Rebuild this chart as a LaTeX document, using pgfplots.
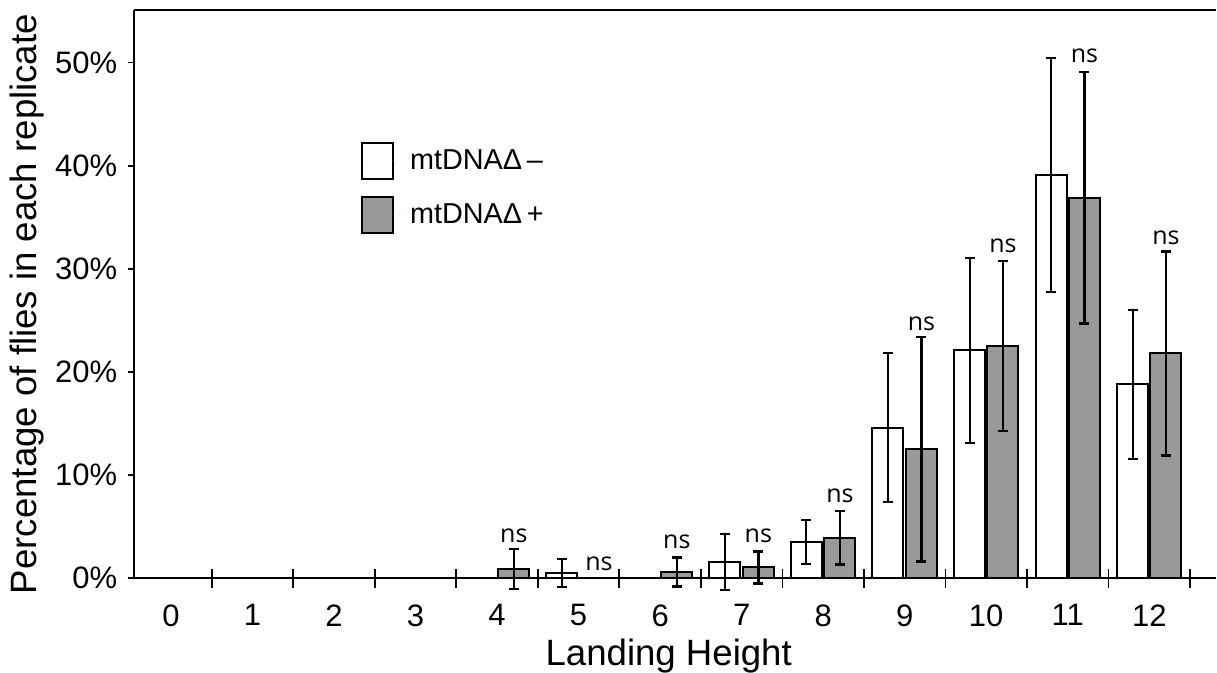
\documentclass[border=0pt]{standalone}
\usepackage{fontspec}
\setmainfont{Liberation Sans}
\newfontfamily\nsfont{Open Sans}
\usepackage{pgfplots}
\usepackage{pgfplotstable}
\pgfplotsset{compat=1.18}
\definecolor{barGray}{RGB}{153,153,153}

% landing height, mean %, half-width of error bar
\pgfplotstableread{
x  y     e
5  0.50  1.35
7  1.55  2.75
8  3.50  2.15
9  14.6  7.20
10 22.1  8.95
11 39.1  11.35
12 18.8  7.25
}\minus
\pgfplotstableread{
x  y     e
4  0.87  1.95
6  0.60  1.40
7  1.04  1.55
8  3.90  2.60
9  12.5  10.9
10 22.5  8.25
11 36.9  12.2
12 21.8  9.90
}\plus

\begin{document}
\begin{tikzpicture}
\begin{axis}[
  scale only axis,
  width=540.8pt, height=284pt,
  xmin=-0.45, xmax=12.82,
  ymin=0, ymax=55.1,
  axis lines*=left,
  axis line style={-, line width=0.9pt},
  clip=false,
  ybar, bar width=0.38,
  tick align=outside,
  major tick length=3pt,
  xtick={0,...,12},
  xticklabels={0,1,2,3,4,5,6,7,8,9,10,11,12},
  xtick style={draw=none},
  ytick={0,10,...,50},
  yticklabels={0\%,10\%,20\%,30\%,40\%,50\%},
  ytick style={line width=0.9pt, black},
  tick label style={font=\fontsize{15.5}{17}\selectfont},
  yticklabel style={xshift=-2pt},
  xticklabel shift=6.7pt,
  xlabel={Landing Height},
  ylabel={Percentage of flies in each replicate},
  label style={font=\fontsize{18.3}{20}\selectfont},
  xlabel style={at={(rel axis cs:0.494,0)}, anchor=base, yshift=-43.5pt, inner sep=0pt},
  ylabel style={yshift=-3pt, xshift=-5pt, inner xsep=0pt, inner ysep=5pt},
  legend style={at={(0.2037,0.776)}, anchor=north west, draw=none, fill=none,
    font=\fontsize{14.4}{16}\selectfont, row sep=8pt},
  legend cell align=left,
  legend image code/.code={\draw[line width=1pt, #1] (0pt,-9pt) rectangle (15.5pt,9pt); \path[draw=none] (0pt,0pt) -- (22pt,0pt);},
]
\addplot[draw=black, line width=1pt, fill=white, bar shift=-0.205,
  error bars/.cd, y dir=both, y explicit,
  error bar style={line width=1pt, black},
  error mark options={rotate=90, line width=1pt, mark size=2.5pt, black}]
  table[x=x, y=y, y error=e]{\minus};
\addlegendentry{mtDNAΔ\,–}
\addplot[draw=black, line width=1pt, fill=barGray, bar shift=0.205,
  error bars/.cd, y dir=both, y explicit,
  error bar style={line width=1.25pt, black},
  error mark options={rotate=90, line width=1.25pt, mark size=2.5pt, black}]
  table[x=x, y=y, y error=e]{\plus};
\addlegendentry{mtDNAΔ\,+}
% separator ticks between the landing heights, crossing the x axis
\addplot[forget plot, draw=none, fill=none, bar width=0, bar shift=0,
  error bars/.cd, y dir=both, y fixed=0.92, error mark=none,
  error bar style={draw=black, line width=0.9pt}]
  coordinates {(0.5,0) (1.5,0) (2.5,0) (3.5,0) (4.5,0) (5.5,0) (6.5,0)
               (7.5,0) (8.5,0) (9.5,0) (10.5,0) (11.5,0) (12.5,0)};
\draw[line width=0.9pt] (rel axis cs:0,1) -- (rel axis cs:1,1);
\path (axis cs:0,56.07);
\begin{scope}[every node/.style={font=\nsfont\fontsize{12.5}{14}\selectfont}]
\node at (axis cs:4.205,4.1) {ns};
\node at (axis cs:5.25,1.4) {ns};
\node at (axis cs:6.205,3.5) {ns};
\node at (axis cs:7.205,4.1) {ns};
\node at (axis cs:8.205,8.0) {ns};
\node at (axis cs:9.205,24.7) {ns};
\node at (axis cs:10.205,32.2) {ns};
\node at (axis cs:11.205,50.7) {ns};
\node at (axis cs:12.205,33.0) {ns};
\end{scope}
\end{axis}
\end{tikzpicture}
\end{document}
